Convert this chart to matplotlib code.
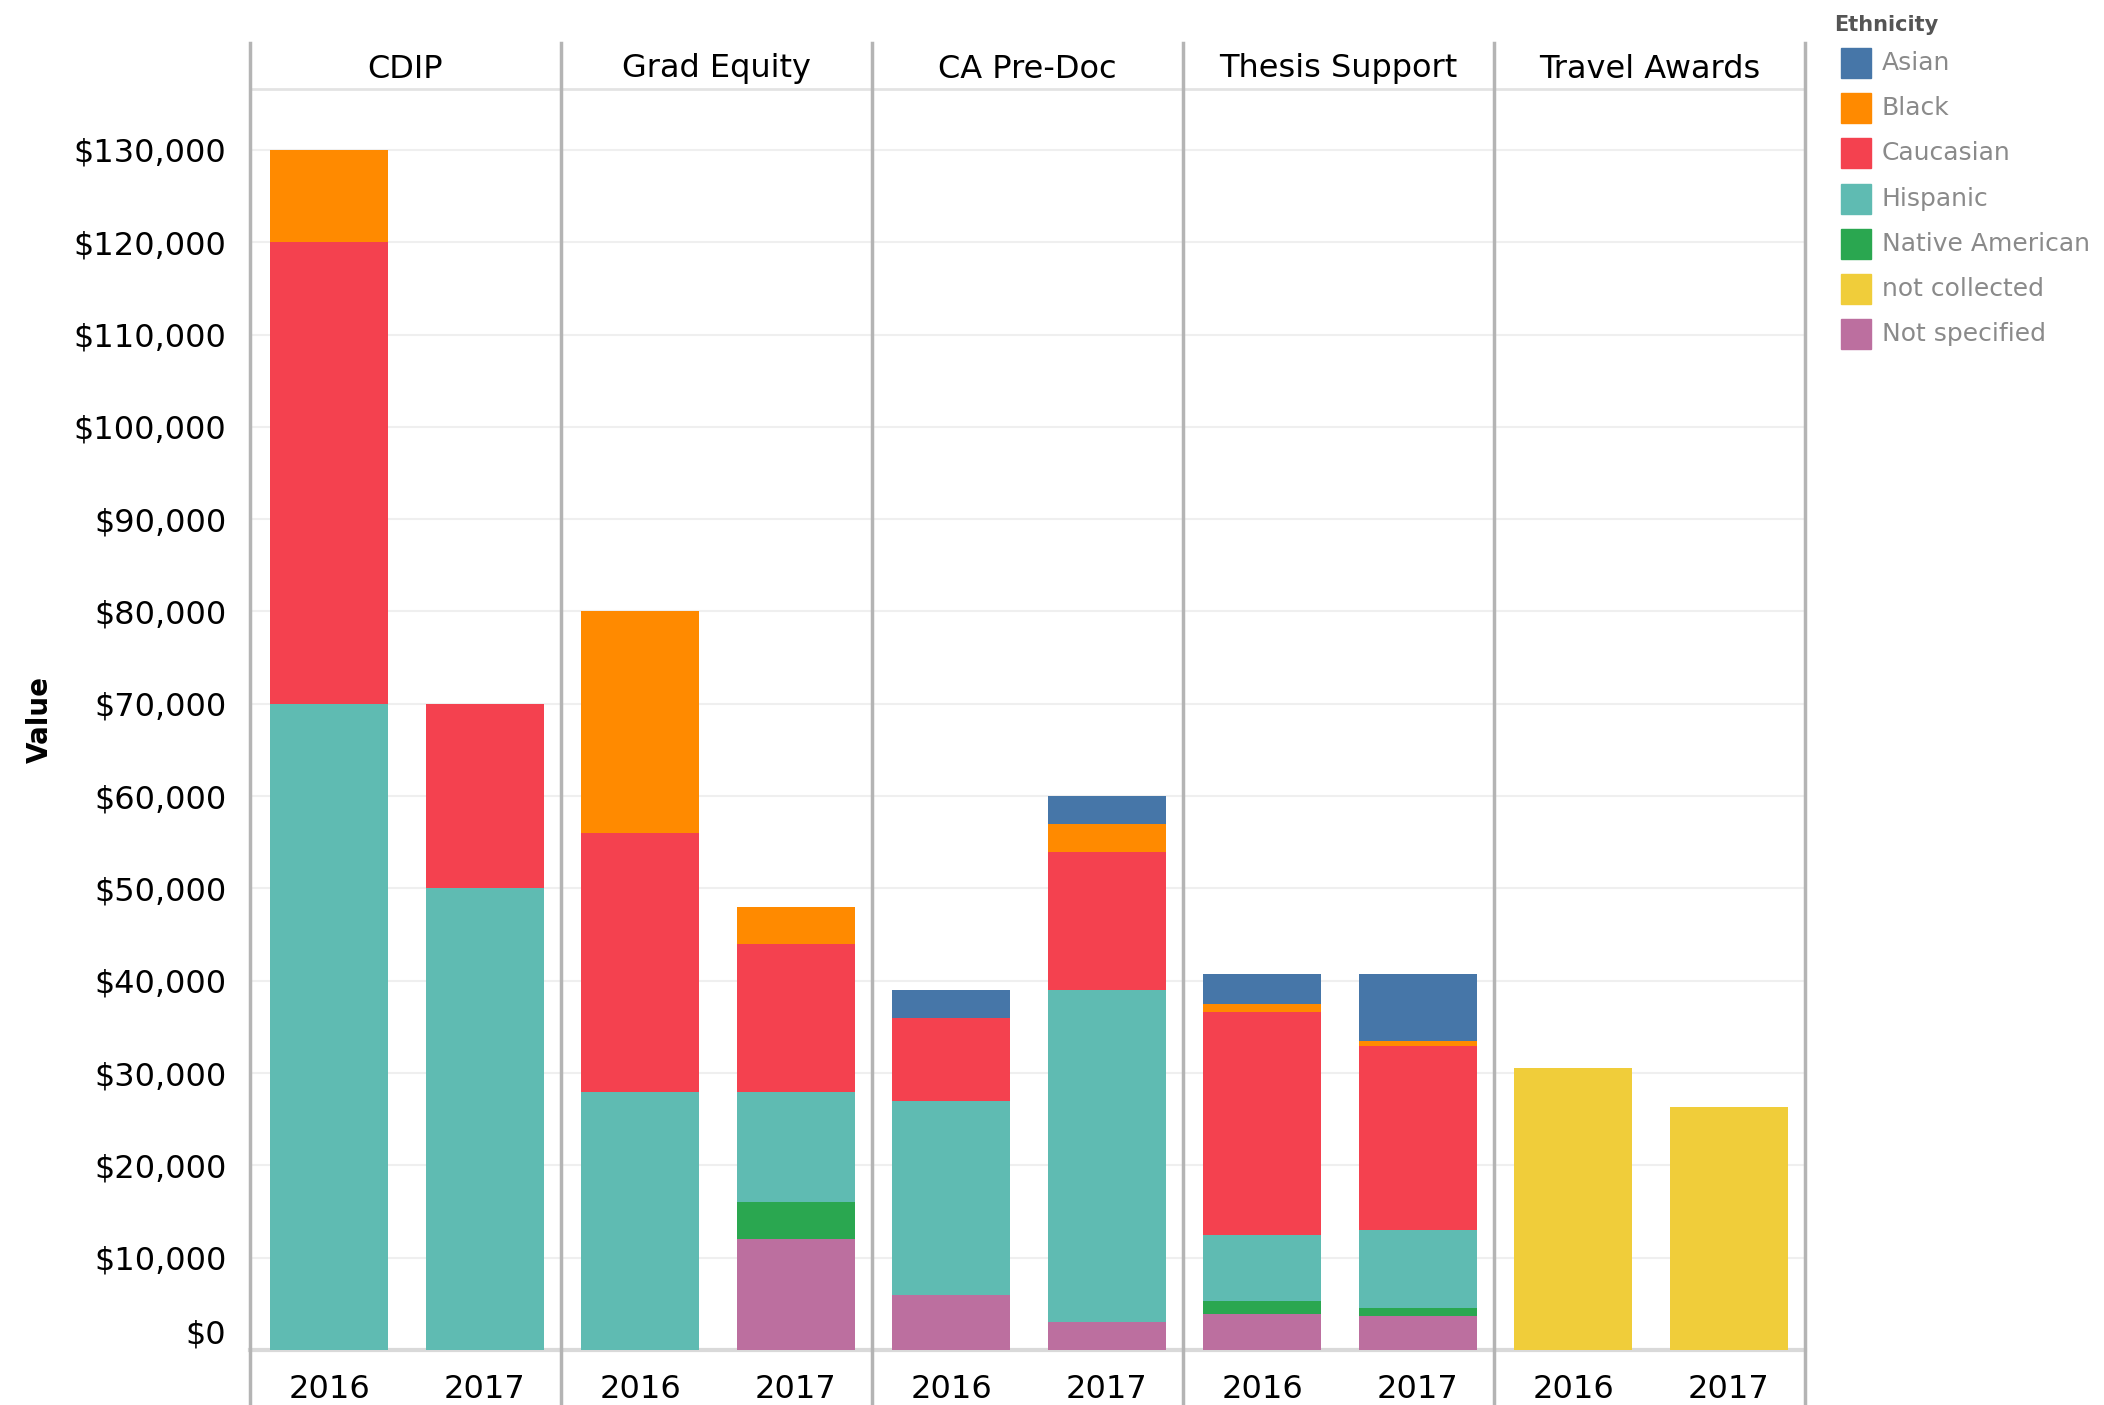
import matplotlib.pyplot as plt
from matplotlib.lines import Line2D
from matplotlib.patches import Rectangle
from matplotlib.ticker import FuncFormatter

programs = ['CDIP', 'Grad Equity', 'CA Pre-Doc', 'Thesis Support', 'Travel Awards']
years = ['2016', '2017']
ethnicities = ['Asian', 'Black', 'Caucasian', 'Hispanic', 'Native American',
               'not collected', 'Not specified']

# values per program, 2016 then 2017
asian = [[0, 0], [0, 0], [3000, 3000], [3300, 7200], [0, 0]]
black = [[10000, 0], [24000, 4000], [0, 3000], [800, 600], [0, 0]]
caucasian = [[50000, 20000], [28000, 16000], [9000, 15000], [24200, 19900], [0, 0]]
hispanic = [[70000, 50000], [28000, 12000], [21000, 36000], [7100, 8500], [0, 0]]
native_american = [[0, 0], [0, 4000], [0, 0], [1450, 800], [0, 0]]
not_collected = [[0, 0], [0, 0], [0, 0], [0, 0], [30500, 26300]]
not_specified = [[0, 0], [0, 12000], [6000, 3000], [3900, 3700], [0, 0]]

series = {
    'Asian': asian, 'Black': black, 'Caucasian': caucasian, 'Hispanic': hispanic,
    'Native American': native_american, 'not collected': not_collected,
    'Not specified': not_specified,
}
colors = {
    'Asian': '#4676a8', 'Black': '#ff8a00', 'Caucasian': '#f4414f',
    'Hispanic': '#5fbbb2', 'Native American': '#2aa750',
    'not collected': '#f0cd3a', 'Not specified': '#bc6f9f',
}

W, H = 2104, 1405
fig = plt.figure(figsize=(W / 100, H / 100), dpi=100)

left_px, panel_px = 250, 311
bottom_px, top_px = 1350, 89
ymax = 136600

for i, prog in enumerate(programs):
    ax = fig.add_axes([(left_px + i * panel_px) / W, (H - bottom_px) / H,
                       panel_px / W, (bottom_px - top_px) / H])
    base = [0, 0]
    for eth in reversed(ethnicities):
        vals = series[eth][i]
        ax.bar([0, 1], vals, width=0.76, bottom=base, color=colors[eth],
               linewidth=0, zorder=3)
        base = [b + v for b, v in zip(base, vals)]
    ax.set_xlim(-0.51, 1.49)
    ax.set_ylim(0, ymax)
    ax.set_yticks(range(0, 130001, 10000))
    ax.grid(axis='y', color='#efefef', linewidth=1.5, zorder=0)
    ax.set_xticks([0, 1], years)
    ax.tick_params(axis='x', length=0, labelsize=23, pad=17)
    for s in ['left', 'right', 'top']:
        ax.spines[s].set_visible(False)
    ax.spines['bottom'].set_color('#d9d9d9')
    ax.spines['bottom'].set_linewidth(3)
    if i == 0:
        ax.yaxis.set_major_formatter(FuncFormatter(lambda v, p: '${:,.0f}'.format(v)))
        ax.tick_params(axis='y', length=0, labelsize=23, pad=17)
        ax.set_ylabel('Value', fontsize=20, fontweight='bold')
        ax.yaxis.set_label_coords(-0.63, 0.5)
        fig.canvas.draw()
        ax.get_yticklabels()[0].set_va('bottom')
    else:
        ax.tick_params(axis='y', length=0, labelleft=False)
    fig.text((left_px + (i + 0.5) * panel_px) / W, 1 - 69 / H, prog,
             ha='center', va='center', fontsize=23)

# header line and panel separators
fig.add_artist(Line2D([left_px / W, (left_px + 5 * panel_px) / W],
                      [1 - top_px / H] * 2, color='#e3e3e3', linewidth=2))
for i in range(6):
    x = (left_px + i * panel_px) / W
    fig.add_artist(Line2D([x, x], [0, 1 - 43 / H], color='#b4b4b4', linewidth=2.5))

# legend
fig.text(1834 / W, 1 - 25 / H, 'Ethnicity', fontsize=15, fontweight='bold',
         color='#555555', va='center')
for k, eth in enumerate(ethnicities):
    yc = 63 + k * 45.2
    fig.add_artist(Rectangle((1841 / W, 1 - (yc + 15) / H), 30 / W, 30 / H,
                             color=colors[eth], transform=fig.transFigure))
    fig.text(1882 / W, 1 - yc / H, eth, fontsize=18, color='#8a8a8a', va='center')

fig.savefig('out.png', dpi=100)
